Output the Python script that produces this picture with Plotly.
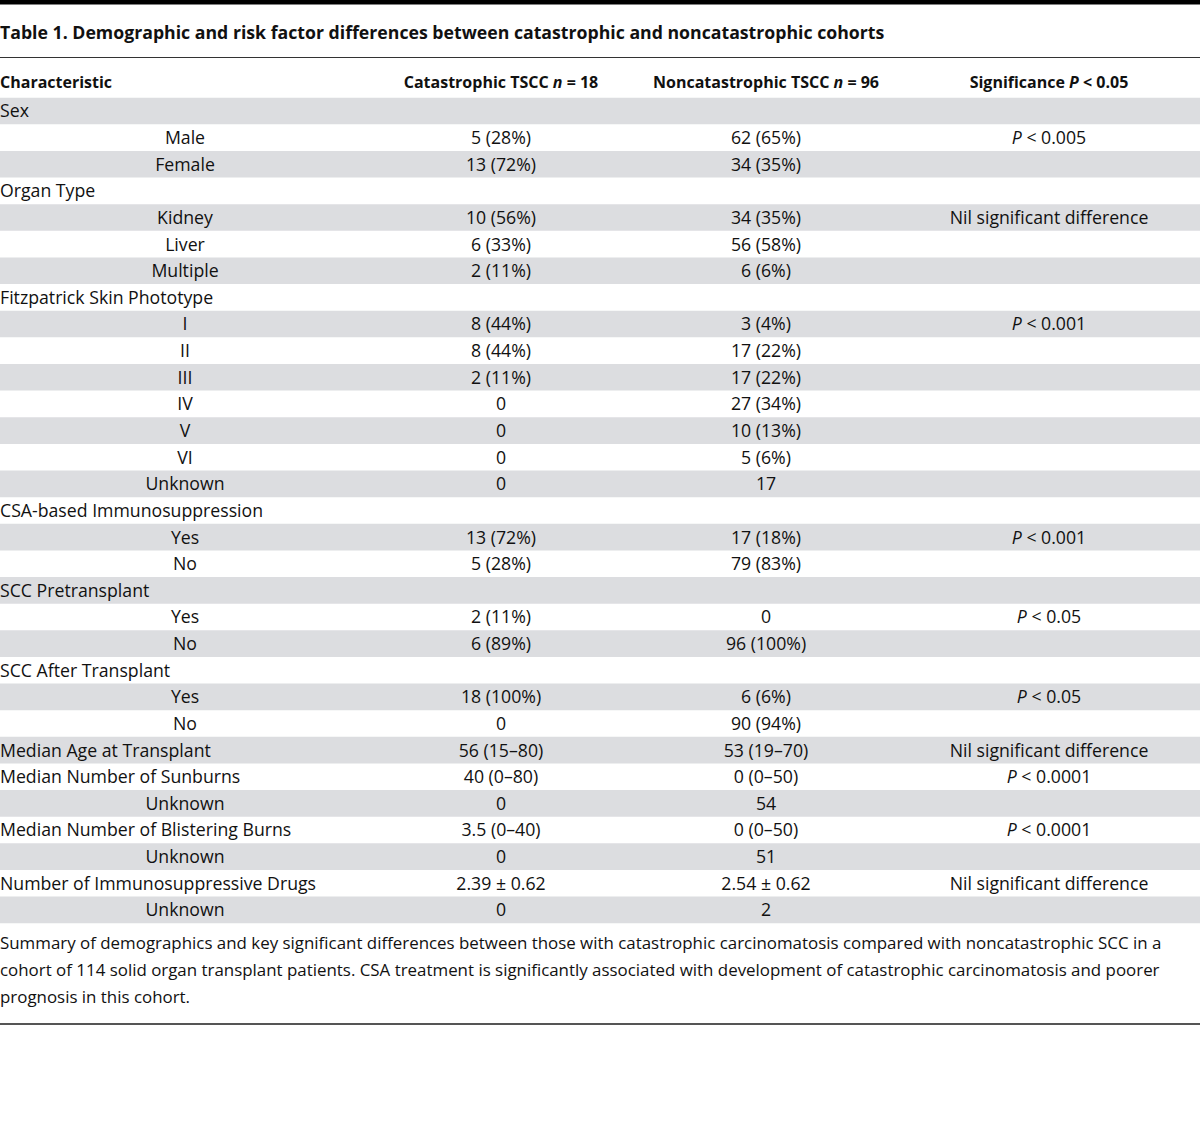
import plotly.graph_objects as go

FONT = "Open Sans"

title = "Table 1. Demographic and risk factor differences between catastrophic and noncatastrophic cohorts"
headers = ["Characteristic", "Catastrophic TSCC <i>n</i> = 18",
           "Noncatastrophic TSCC <i>n</i> = 96", "Significance <i>P</i> &lt; 0.05"]

characteristic = ["Sex", "Male", "Female", "Organ Type", "Kidney", "Liver", "Multiple",
                  "Fitzpatrick Skin Phototype", "I", "II", "III", "IV", "V", "VI", "Unknown",
                  "CSA-based Immunosuppression", "Yes", "No", "SCC Pretransplant", "Yes", "No",
                  "SCC After Transplant", "Yes", "No", "Median Age at Transplant",
                  "Median Number of Sunburns", "Unknown", "Median Number of Blistering Burns",
                  "Unknown", "Number of Immunosuppressive Drugs", "Unknown"]
is_sub = [0, 1, 1, 0, 1, 1, 1, 0, 1, 1, 1, 1, 1, 1, 1, 0, 1, 1, 0, 1, 1, 0, 1, 1, 0, 0, 1, 0, 1, 0, 1]
catastrophic = ["", "5 (28%)", "13 (72%)", "", "10 (56%)", "6 (33%)", "2 (11%)",
                "", "8 (44%)", "8 (44%)", "2 (11%)", "0", "0", "0", "0",
                "", "13 (72%)", "5 (28%)", "", "2 (11%)", "6 (89%)",
                "", "18 (100%)", "0", "56 (15–80)",
                "40 (0–80)", "0", "3.5 (0–40)", "0", "2.39 ± 0.62", "0"]
noncatastrophic = ["", "62 (65%)", "34 (35%)", "", "34 (35%)", "56 (58%)", "6 (6%)",
                   "", "3 (4%)", "17 (22%)", "17 (22%)", "27 (34%)", "10 (13%)", "5 (6%)", "17",
                   "", "17 (18%)", "79 (83%)", "", "0", "96 (100%)",
                   "", "6 (6%)", "90 (94%)", "53 (19–70)",
                   "0 (0–50)", "54", "0 (0–50)", "51", "2.54 ± 0.62", "2"]
significance = ["", "<i>P</i> &lt; 0.005", "", "", "Nil significant difference", "", "",
                "", "<i>P</i> &lt; 0.001", "", "", "", "", "", "",
                "", "<i>P</i> &lt; 0.001", "", "", "<i>P</i> &lt; 0.05", "",
                "", "<i>P</i> &lt; 0.05", "", "Nil significant difference",
                "<i>P</i> &lt; 0.0001", "", "<i>P</i> &lt; 0.0001", "", "Nil significant difference", ""]
caption = ["Summary of demographics and key significant differences between those with catastrophic carcinomatosis compared with noncatastrophic SCC in a",
           "cohort of 114 solid organ transplant patients. CSA treatment is significantly associated with development of catastrophic carcinomatosis and poorer",
           "prognosis in this cohort."]

# layout geometry (pixels)
W, H = 1200, 1129
ROW0, PITCH = 111, 26.63
TEXT_DY = 2          # visual centering offset for text
HEADER_Y = 82
COL_SUB_X, COL2_X, COL3_X, COL4_X = 185, 501, 766, 1049
TXT = "#111111"
GRAY = "#dcdde0"

n = len(characteristic)
row_y = [ROW0 + i * PITCH for i in range(n)]
txt_y = [y + TEXT_DY for y in row_y]

fig = go.Figure()

shapes = []
# top thick bar
shapes.append(dict(type="rect", xref="x", yref="y", x0=0, x1=W, y0=0, y1=4.5,
                   fillcolor="#000000", line_width=0, layer="below"))
# line below title
shapes.append(dict(type="line", xref="x", yref="y", x0=0, x1=W, y0=57.5, y1=57.5,
                   line=dict(color="#333333", width=1.2)))
# striped bands
for i, y in enumerate(row_y):
    if i % 2 == 0:
        shapes.append(dict(type="rect", xref="x", yref="y", x0=0, x1=W,
                           y0=y - PITCH / 2, y1=y + PITCH / 2,
                           fillcolor=GRAY, line_width=0, layer="below"))
# bottom line
shapes.append(dict(type="line", xref="x", yref="y", x0=0, x1=W, y0=1024, y1=1024,
                   line=dict(color="#555555", width=2)))

font_body = dict(family=FONT, size=17.7, color=TXT)
font_head = dict(family=FONT, size=16, color=TXT)

# title
fig.add_trace(go.Scatter(x=[0], y=[33 + TEXT_DY], text=["<b>" + title + "</b>"], mode="text",
                         textposition="middle right",
                         textfont=dict(family=FONT, size=17.7, color=TXT), hoverinfo="skip"))
# headers
fig.add_trace(go.Scatter(x=[0], y=[HEADER_Y + TEXT_DY], text=["<b>" + headers[0] + "</b>"], mode="text",
                         textposition="middle right", textfont=font_head, hoverinfo="skip"))
fig.add_trace(go.Scatter(x=[COL2_X, COL3_X, COL4_X], y=[HEADER_Y + TEXT_DY] * 3,
                         text=["<b>" + h + "</b>" for h in headers[1:]], mode="text",
                         textposition="middle center", textfont=font_head, hoverinfo="skip"))
# first column: main (left) and sub (centered)
main_idx = [i for i in range(n) if not is_sub[i]]
sub_idx = [i for i in range(n) if is_sub[i]]
fig.add_trace(go.Scatter(x=[0] * len(main_idx), y=[txt_y[i] for i in main_idx],
                         text=[characteristic[i] for i in main_idx], mode="text",
                         textposition="middle right", textfont=font_body, hoverinfo="skip"))
fig.add_trace(go.Scatter(x=[COL_SUB_X] * len(sub_idx), y=[txt_y[i] for i in sub_idx],
                         text=[characteristic[i] for i in sub_idx], mode="text",
                         textposition="middle center", textfont=font_body, hoverinfo="skip"))
for cx, col in [(COL2_X, catastrophic), (COL3_X, noncatastrophic), (COL4_X, significance)]:
    fig.add_trace(go.Scatter(x=[cx] * n, y=txt_y, text=col, mode="text",
                             textposition="middle center", textfont=font_body, hoverinfo="skip"))
# caption
fig.add_trace(go.Scatter(x=[0] * len(caption),
                         y=[943 + TEXT_DY + k * 27 for k in range(len(caption))],
                         text=caption, mode="text", textposition="middle right",
                         textfont=dict(family=FONT, size=16.9, color=TXT), hoverinfo="skip"))

fig.update_layout(
    width=W, height=H, margin=dict(l=0, r=0, t=0, b=0),
    paper_bgcolor="white", plot_bgcolor="white", showlegend=False,
    shapes=shapes,
    xaxis=dict(range=[0, W], visible=False, fixedrange=True),
    yaxis=dict(range=[H, 0], visible=False, fixedrange=True),
)
fig.write_html("out.html", config={"displayModeBar": False},
               post_script="document.body.style.margin='0';")
